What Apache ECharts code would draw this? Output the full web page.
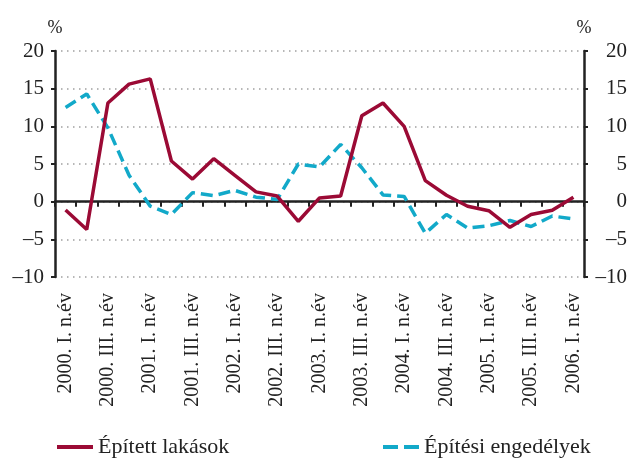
<!DOCTYPE html>
<html>
<head>
<meta charset="utf-8">
<script src="https://cdn.jsdelivr.net/npm/echarts@6/dist/echarts.min.js"></script>
<style>
  html, body { margin: 0; padding: 0; background: #fff; }
  #chart { width: 630px; height: 458px; }
</style>
</head>
<body>
<div id="chart"></div>
<script>
//negyedéves kategóriák, 2000 I. – 2006 I.
var quarters = [
  '2000. I. n.év', '2000. II. n.év', '2000. III. n.év', '2000. IV. n.év',
  '2001. I. n.év', '2001. II. n.év', '2001. III. n.év', '2001. IV. n.év',
  '2002. I. n.év', '2002. II. n.év', '2002. III. n.év', '2002. IV. n.év',
  '2003. I. n.év', '2003. II. n.év', '2003. III. n.év', '2003. IV. n.év',
  '2004. I. n.év', '2004. II. n.év', '2004. III. n.év', '2004. IV. n.év',
  '2005. I. n.év', '2005. II. n.év', '2005. III. n.év', '2005. IV. n.év',
  '2006. I. n.év'
]

//Épített lakások (%)
var epitettLakasok = [
  -1.1, -3.7, 13.1, 15.6, 16.3, 5.4, 3.0, 5.7, 3.5, 1.3, 0.75, -2.6, 0.5,
  0.75, 11.4, 13.1, 10.0, 2.8, 0.85, -0.6, -1.2, -3.4, -1.7, -1.15, 0.6
]

//Építési engedélyek (%)
var epitesiEngedelyek = [
  12.5, 14.3, 9.8, 3.5, -0.6, -1.7, 1.2, 0.8, 1.5, 0.6, 0.3, 5.0, 4.6,
  7.6, 4.5, 0.9, 0.7, -4.2, -1.7, -3.5, -3.2, -2.5, -3.3, -1.9, -2.3
]

var yTicks = { min: -10, max: 20, interval: 5 }

var FONT = 'Liberation Serif'
var RED = '#9b0a35'
var BLUE = '#12a9c9'

//bal és jobb oldali tengely, a jobb oldalon jobbra zárt feliratokkal
function yAxisDef(pos) {
  return {
    type: 'value',
    position: pos,
    min: yTicks.min,
    max: yTicks.max,
    interval: yTicks.interval,
    name: '%',
    nameLocation: 'end',
    nameGap: 14,
    nameTextStyle: { fontFamily: FONT, fontSize: 18, color: '#222', align: 'center' },
    axisLine: { show: true, lineStyle: { color: '#222', width: 2.5 } },
    axisTick: { show: true, length: 4, lineStyle: { color: '#222', width: 2 } },
    axisLabel: {
      fontFamily: FONT, fontSize: 21, color: '#222',
      margin: pos === 'left' ? 11 : 43,
      align: 'right',
      formatter: function (v) { return String(v).replace('-', '–') }
    },
    splitLine: pos === 'left'
      ? { show: true, lineStyle: { color: '#a0a0a0', type: [1.5, 4.5], width: 1.5 } }
      : { show: false }
  }
}

var legendText = { fontFamily: FONT, fontSize: 22, color: '#222' }

var chart = echarts.init(document.getElementById('chart'))
chart.setOption({
  animation: false,
  backgroundColor: '#fff',
  grid: { left: 55, right: 45, top: 51, bottom: 181 },
  legend: [
    {
      data: [{ name: 'Épített lakások', icon: 'rect' }],
      left: 57, top: 436, padding: 0,
      itemWidth: 36, itemHeight: 4, itemGap: 6,
      textStyle: legendText
    },
    {
      data: [{ name: 'Építési engedélyek', icon: 'path://M0,0h15v4h-15z M21,0h15v4h-15z' }],
      left: 383, top: 436, padding: 0,
      itemWidth: 36, itemHeight: 4, itemGap: 6,
      textStyle: legendText
    }
  ],
  xAxis: [
    {
      type: 'category',
      data: quarters,
      boundaryGap: true,
      position: 'bottom',
      axisLine: { show: false, onZero: false },
      axisTick: { show: false },
      axisLabel: {
        interval: 1, rotate: 90, margin: 16,
        fontFamily: FONT, fontSize: 20, color: '#222'
      },
      splitLine: { show: false }
    },
    {
      type: 'category',
      data: quarters,
      boundaryGap: true,
      position: 'bottom',
      axisLine: { show: true, onZero: true, lineStyle: { color: '#222', width: 2.5 } },
      axisTick: { show: true, inside: false, length: 5, interval: 0, lineStyle: { color: '#222', width: 2 } },
      axisLabel: { show: false },
      splitLine: { show: false }
    }
  ],
  yAxis: [yAxisDef('left'), yAxisDef('right')],
  series: [
    {
      name: 'Építési engedélyek',
      type: 'line',
      data: epitesiEngedelyek,
      xAxisIndex: 0, yAxisIndex: 0,
      symbol: 'none',
      lineStyle: { color: BLUE, width: 3.5, type: [12, 6] },
      itemStyle: { color: BLUE },
      z: 3
    },
    {
      name: 'Épített lakások',
      type: 'line',
      data: epitettLakasok,
      xAxisIndex: 0, yAxisIndex: 0,
      symbol: 'none',
      lineStyle: { color: RED, width: 3.5 },
      itemStyle: { color: RED },
      z: 4
    }
  ]
})
</script>
</body>
</html>
